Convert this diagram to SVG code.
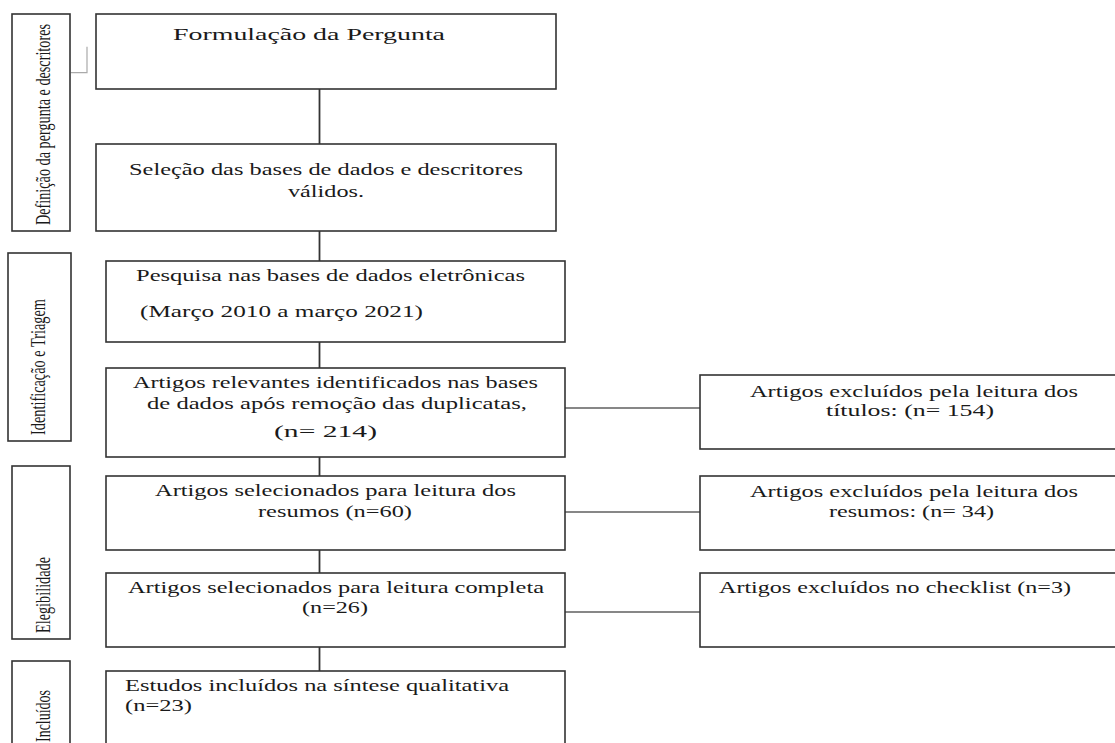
<svg xmlns="http://www.w3.org/2000/svg" width="1115" height="743" viewBox="0 0 1115 743">
<style>
.box{fill:#fff;stroke:#333;stroke-width:1.6}
.t{font-family:"Liberation Serif","Times New Roman",serif;font-size:16.8px;fill:#1a1a1a}
.r{font-family:"Liberation Serif","Times New Roman",serif;font-size:14.2px;fill:#1a1a1a}
.c{stroke:#333;stroke-width:1.8;fill:none}
.h{stroke:#111;stroke-width:1.2;fill:none}
</style>
<rect width="1115" height="743" fill="#fff"/>
<g id="connectors">
<polyline points="70.7,72.7 87,72.7 87,46.7" fill="none" stroke="#aaa" stroke-width="1.2"/>
<line class="c" x1="319.5" y1="89" x2="319.5" y2="144"/>
<line class="c" x1="319.5" y1="231" x2="319.5" y2="261"/>
<line class="c" x1="319.5" y1="342" x2="319.5" y2="368"/>
<line class="c" x1="319.5" y1="457" x2="319.5" y2="476"/>
<line class="c" x1="319.5" y1="550" x2="319.5" y2="573"/>
<line class="c" x1="319.5" y1="647" x2="319.5" y2="671"/>
<line class="h" x1="565" y1="408" x2="700" y2="408"/>
<line class="h" x1="565" y1="512" x2="700" y2="512"/>
<line class="h" x1="565" y1="612" x2="700" y2="612"/>
</g>
<g id="label-definicao">
<rect class="box" x="12" y="14" width="58" height="217"/>
<text class="r" transform="translate(50,225) rotate(-90) scale(1,1.47)" textLength="201" lengthAdjust="spacingAndGlyphs">Definição da pergunta e descritores</text>
</g>
<g id="label-identificacao">
<rect class="box" x="8" y="253" width="63" height="188"/>
<text class="r" transform="translate(45,435) rotate(-90) scale(1,1.47)" textLength="136" lengthAdjust="spacingAndGlyphs">Identificação e Triagem</text>
</g>
<g id="label-elegibilidade">
<rect class="box" x="12" y="466" width="58" height="173"/>
<text class="r" transform="translate(50,633) rotate(-90) scale(1,1.47)" textLength="76" lengthAdjust="spacingAndGlyphs">Elegibilidade</text>
</g>
<g id="label-incluidos">
<rect class="box" x="12" y="661" width="58" height="100"/>
<text class="r" transform="translate(50,742) rotate(-90) scale(1,1.47)" textLength="52" lengthAdjust="spacingAndGlyphs">Incluídos</text>
</g>
<g id="n1">
<rect class="box" x="96" y="14" width="460" height="75"/>
<text class="t" x="173" y="40" textLength="272" lengthAdjust="spacingAndGlyphs">Formulação da Pergunta</text>
</g>
<g id="n2">
<rect class="box" x="96" y="144" width="460" height="87"/>
<text class="t" x="129" y="175" textLength="394" lengthAdjust="spacingAndGlyphs">Seleção das bases de dados e descritores</text>
<text class="t" x="288" y="197" textLength="76" lengthAdjust="spacingAndGlyphs">válidos.</text>
</g>
<g id="n3">
<rect class="box" x="106" y="261" width="459" height="81"/>
<text class="t" x="136" y="281" textLength="389" lengthAdjust="spacingAndGlyphs">Pesquisa nas bases de dados eletrônicas</text>
<text class="t" x="140" y="317" textLength="283" lengthAdjust="spacingAndGlyphs">(Março 2010 a março 2021)</text>
</g>
<g id="n4">
<rect class="box" x="106" y="368" width="459" height="89"/>
<text class="t" x="133" y="388" textLength="405" lengthAdjust="spacingAndGlyphs">Artigos relevantes identificados nas bases</text>
<text class="t" x="147" y="409" textLength="380" lengthAdjust="spacingAndGlyphs">de dados após remoção das duplicatas,</text>
<text class="t" x="274" y="437" textLength="103" lengthAdjust="spacingAndGlyphs">(n= 214)</text>
</g>
<g id="n5">
<rect class="box" x="106" y="476" width="459" height="74"/>
<text class="t" x="155" y="496" textLength="361" lengthAdjust="spacingAndGlyphs">Artigos selecionados para leitura dos</text>
<text class="t" x="258" y="517" textLength="154" lengthAdjust="spacingAndGlyphs">resumos (n=60)</text>
</g>
<g id="n6">
<rect class="box" x="106" y="573" width="459" height="74"/>
<text class="t" x="128" y="593" textLength="416" lengthAdjust="spacingAndGlyphs">Artigos selecionados para leitura completa</text>
<text class="t" x="302" y="613" textLength="66" lengthAdjust="spacingAndGlyphs">(n=26)</text>
</g>
<g id="n7">
<rect class="box" x="106" y="671" width="459" height="90"/>
<text class="t" x="125" y="691" textLength="384" lengthAdjust="spacingAndGlyphs">Estudos incluídos na síntese qualitativa</text>
<text class="t" x="125" y="711" textLength="67" lengthAdjust="spacingAndGlyphs">(n=23)</text>
</g>
<g id="e1">
<rect class="box" x="700" y="375" width="430" height="74"/>
<text class="t" x="750" y="397" textLength="328" lengthAdjust="spacingAndGlyphs">Artigos excluídos pela leitura dos</text>
<text class="t" x="826" y="416" textLength="168" lengthAdjust="spacingAndGlyphs">títulos: (n= 154)</text>
</g>
<g id="e2">
<rect class="box" x="700" y="476" width="430" height="74"/>
<text class="t" x="750" y="497" textLength="328" lengthAdjust="spacingAndGlyphs">Artigos excluídos pela leitura dos</text>
<text class="t" x="829" y="517" textLength="165" lengthAdjust="spacingAndGlyphs">resumos: (n= 34)</text>
</g>
<g id="e3">
<rect class="box" x="700" y="573" width="430" height="74"/>
<text class="t" x="719" y="593" textLength="352" lengthAdjust="spacingAndGlyphs">Artigos excluídos no checklist (n=3)</text>
</g>
</svg>
